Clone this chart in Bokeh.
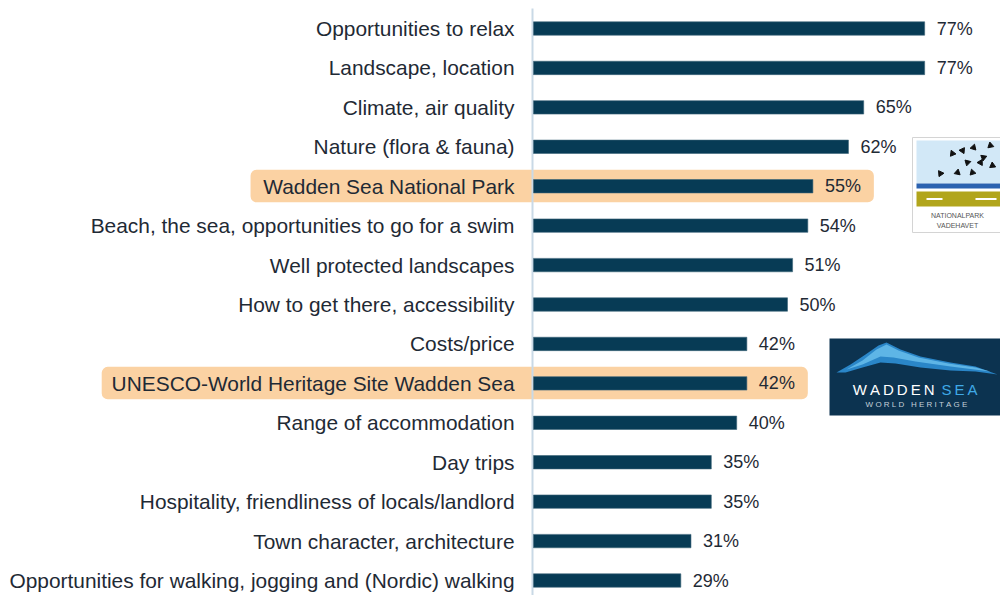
from bokeh.plotting import figure
from bokeh.models import Range1d, ColumnDataSource
from bokeh.core.properties import value
from bokeh.embed import file_html
from bokeh.resources import INLINE

# ---------------- data ----------------
categories = [
    "Opportunities to relax",
    "Landscape, location",
    "Climate, air quality",
    "Nature (flora & fauna)",
    "Wadden Sea National Park",
    "Beach, the sea, opportunities to go for a swim",
    "Well protected landscapes",
    "How to get there, accessibility",
    "Costs/price",
    "UNESCO-World Heritage Site Wadden Sea",
    "Range of accommodation",
    "Day trips",
    "Hospitality, friendliness of locals/landlord",
    "Town character, architecture",
    "Opportunities for walking, jogging and (Nordic) walking",
]
values = [77, 77, 65, 62, 55, 54, 51, 50, 42, 42, 40, 35, 35, 31, 29]
value_labels = [f"{v}%" for v in values]
highlighted = ["Wadden Sea National Park", "UNESCO-World Heritage Site Wadden Sea"]

# ---------------- layout / style ----------------
W, H = 1000, 595
X0_PX = 533.0      # pixel where 0 % sits
PX_PER = 5.08      # pixels per percent
ROW_PX = 39.43     # pixels per row
TOP_PX = 28.0      # pixel of first row centre
n = len(categories)

FONT = value("Liberation Sans")
TEXT_COLOR = "#1f2a35"
BAR_COLOR = "#073b55"
HL_COLOR = "#fbd2a3"

x_range = Range1d(-X0_PX / PX_PER, (W - X0_PX) / PX_PER)
y_range = Range1d((H - TOP_PX) / ROW_PX, -TOP_PX / ROW_PX)

p = figure(width=W, height=H, x_range=x_range, y_range=y_range,
           output_backend="svg", toolbar_location=None,
           x_axis_location=None, y_axis_location=None,
           min_border=0, outline_line_color=None)
p.grid.visible = False
p.background_fill_color = "white"
p.border_fill_color = "white"


def dx(px):  # pixel -> data x
    return (px - X0_PX) / PX_PER


def dy(py):  # pixel -> data y
    return (py - TOP_PX) / ROW_PX


idx = list(range(n))

# highlight boxes
hl_idx = [categories.index(c) for c in highlighted]
hl_left_pad = [-55.7, -85.0]   # left extents (label width), in % units
hl = ColumnDataSource(dict(
    left=hl_left_pad,
    right=[values[i] + 12 for i in hl_idx],
    top=[i - 16.5 / ROW_PX for i in hl_idx],
    bottom=[i + 16.0 / ROW_PX for i in hl_idx],
))
p.quad(left="left", right="right", top="top", bottom="bottom", source=hl,
       fill_color=HL_COLOR, line_color=None, border_radius=6)

# axis line
p.segment(x0=[dx(532)], y0=[dy(8)], x1=[dx(532)], y1=[dy(600)],
          line_color="#c9d9e6", line_width=2)

# bars
src = ColumnDataSource(dict(y=idx, v=values, cat=categories, lab=value_labels))
p.hbar(y="y", left=0, right="v", height=0.34, source=src,
       fill_color=BAR_COLOR, line_color="#3d6479", line_width=0.6)

# category labels
p.text(x=0, y="y", text="cat", source=src, x_offset=-19,
       text_align="right", text_baseline="middle",
       text_font=FONT, text_font_size="20.9px", text_color=TEXT_COLOR)

# value labels
p.text(x="v", y="y", text="lab", source=src, x_offset=12,
       text_align="left", text_baseline="middle",
       text_font=FONT, text_font_size="18px", text_color=TEXT_COLOR)

# ---------------- logo 1: Nationalpark Vadehavet ----------------
p.quad(left=dx(912), right=dx(1001), top=dy(137), bottom=dy(232),
       fill_color="white", line_color="#d4d4d4", line_width=1)
p.quad(left=dx(916), right=dx(1001), top=dy(140), bottom=dy(183),
       fill_color="#d2e8f7", line_color=None)
p.quad(left=dx(916), right=dx(1001), top=dy(183), bottom=dy(188),
       fill_color="#2b62b0", line_color=None)
p.quad(left=dx(916), right=dx(1001), top=dy(191), bottom=dy(206),
       fill_color="#b1a51c", line_color=None)
p.quad(left=[dx(926), dx(975)], right=[dx(942), dx(996)],
       top=[dy(197.5)] * 2, bottom=[dy(199.5)] * 2,
       fill_color="white", line_color=None)
bird_x = [dx(v) for v in [952, 973, 990, 967, 980, 992, 940, 957, 972, 983, 962]]
bird_y = [dy(v) for v in [153, 147, 145, 162, 162, 165, 173, 172, 172, 157, 150]]
p.scatter(x=bird_x, y=bird_y, marker="triangle", size=6,
          angle=[0.4, -0.3, 0.2, 0.8, -0.5, 0.1, 0.6, -0.2, 0.3, 0.9, -0.6],
          fill_color="#111111", line_color="#111111")
p.text(x=[dx(957), dx(957)], y=[dy(215), dy(225)],
       text=["NATIONALPARK", "VADEHAVET"], text_align="center",
       text_baseline="middle", text_font=FONT, text_font_size="7px",
       text_color="#555555")

# ---------------- logo 2: Wadden Sea World Heritage ----------------
p.quad(left=dx(829), right=dx(1001), top=dy(338), bottom=dy(415),
       fill_color="#0c3350", line_color=None)
wave_px = [(836, 372), (850, 364), (865, 354), (878, 345), (886, 342),
           (900, 349), (920, 356), (950, 362), (975, 366), (997, 374),
           (975, 371), (950, 370), (920, 367), (895, 363), (880, 362),
           (862, 367), (845, 372)]
p.patch(x=[dx(a) for a, b in wave_px], y=[dy(b) for a, b in wave_px],
        fill_color="#2a86c8", line_color=None)
wave2_px = [(846, 369), (862, 360), (876, 349), (886, 344),
            (898, 350), (918, 357), (948, 363), (975, 367), (990, 371),
            (950, 366), (915, 361), (893, 357), (880, 356), (862, 364)]
p.patch(x=[dx(a) for a, b in wave2_px], y=[dy(b) for a, b in wave2_px],
        fill_color="#6cc0ee", line_color=None, fill_alpha=0.8)
ts = "\u2009"
p.text(x=[dx(934)], y=[dy(389)], text=[ts.join("WADDEN")],
       text_align="right", text_baseline="middle", text_font=FONT,
       text_font_size="15px", text_color="white")
p.text(x=[dx(941)], y=[dy(389)], text=[ts.join("SEA")],
       text_align="left", text_baseline="middle", text_font=FONT,
       text_font_size="15px", text_color="#3fa9e6")
p.text(x=[dx(916)], y=[dy(404)],
       text=["\u00a0".join("WORLD") + "\u00a0\u00a0\u00a0" + "\u00a0".join("HERITAGE")],
       text_align="center", text_baseline="middle", text_font=FONT,
       text_font_size="8px", text_color="#c4d0da")

open("out.html", "w").write(file_html(p, INLINE))
